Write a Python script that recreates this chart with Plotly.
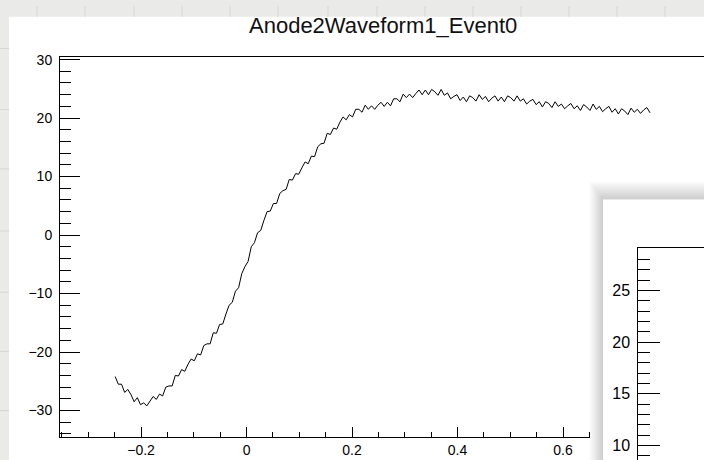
import plotly.graph_objects as go

W, H = 704, 460

# ---------------- data ----------------
time_s = [
    -0.249, -0.243, -0.237, -0.231, -0.225, -0.219, -0.213, -0.207, -0.201, -0.195,
    -0.189, -0.183, -0.177, -0.171, -0.165, -0.159, -0.153, -0.147, -0.141, -0.135,
    -0.129, -0.123, -0.117, -0.111, -0.105, -0.099, -0.093, -0.087, -0.081, -0.075,
    -0.069, -0.063, -0.057, -0.051, -0.045, -0.039, -0.033, -0.027, -0.021, -0.015,
    -0.009, -0.003, 0.003, 0.009, 0.015, 0.021, 0.027, 0.033, 0.039, 0.045,
    0.051, 0.057, 0.063, 0.069, 0.075, 0.081, 0.087, 0.093, 0.099, 0.105,
    0.111, 0.117, 0.123, 0.129, 0.135, 0.141, 0.147, 0.153, 0.159, 0.165,
    0.171, 0.177, 0.183, 0.189, 0.195, 0.201, 0.207, 0.213, 0.219, 0.225,
    0.231, 0.237, 0.243, 0.249, 0.255, 0.261, 0.267, 0.273, 0.279, 0.285,
    0.291, 0.297, 0.303, 0.309, 0.315, 0.321, 0.327, 0.333, 0.339, 0.345,
    0.351, 0.357, 0.363, 0.369, 0.375, 0.381, 0.387, 0.393, 0.399, 0.405,
    0.411, 0.417, 0.423, 0.429, 0.435, 0.441, 0.447, 0.453, 0.459, 0.465,
    0.471, 0.477, 0.483, 0.489, 0.495, 0.501, 0.507, 0.513, 0.519, 0.525,
    0.531, 0.537, 0.543, 0.549, 0.555, 0.561, 0.567, 0.573, 0.579, 0.585,
    0.591, 0.597, 0.603, 0.609, 0.615, 0.621, 0.627, 0.633, 0.639, 0.645,
    0.651, 0.657, 0.663, 0.669, 0.675, 0.681, 0.687, 0.693, 0.699, 0.705,
    0.711, 0.717, 0.723, 0.729, 0.735, 0.741, 0.747, 0.753, 0.759, 0.765,
]

amplitude = [
    -24.2, -25.5, -25.5, -26.9, -26.4, -27.3, -28.5, -27.8, -29.0, -28.7,
    -29.2, -28.4, -27.6, -28.1, -27.2, -27.5, -26.0, -25.8, -25.8, -24.0,
    -24.1, -23.0, -23.3, -22.1, -21.2, -21.5, -20.3, -20.5, -18.9, -18.6,
    -18.6, -16.7, -16.8, -15.3, -15.2, -13.5, -12.0, -11.5, -9.6, -9.0,
    -6.6, -5.4, -4.5, -2.0, -1.3, 0.4, 0.8, 2.5, 4.0, 4.1,
    5.4, 5.4, 7.1, 7.6, 7.8, 9.5, 9.4, 10.5, 10.4, 11.5,
    12.5, 12.2, 13.5, 13.4, 15.1, 15.6, 15.7, 17.4, 17.2, 18.3,
    18.1, 19.3, 20.2, 19.7, 20.6, 20.2, 21.5, 21.5, 21.0, 22.2,
    21.5, 22.1, 21.5, 22.2, 22.7, 22.0, 22.7, 22.1, 23.3, 23.3,
    22.8, 24.1, 23.5, 24.1, 23.5, 24.2, 24.8, 24.0, 24.8, 24.0,
    24.9, 24.5, 23.9, 24.9, 23.9, 24.3, 23.3, 23.7, 24.0, 23.0,
    23.6, 22.8, 23.8, 23.5, 22.9, 24.0, 23.2, 23.7, 22.8, 23.4,
    23.8, 22.9, 23.6, 22.8, 23.8, 23.5, 22.9, 23.8, 22.9, 23.3,
    22.4, 22.9, 23.2, 22.3, 22.8, 21.9, 22.8, 22.5, 21.8, 22.8,
    22.0, 22.4, 21.6, 22.1, 22.5, 21.6, 22.1, 21.3, 22.3, 21.9,
    21.3, 22.4, 21.5, 22.0, 21.1, 21.6, 22.0, 21.0, 21.6, 20.7,
    21.6, 21.2, 20.6, 21.7, 21.0, 21.5, 20.8, 21.4, 21.8, 20.9,
]

x_major_ticks = [-0.2, 0.0, 0.2, 0.4, 0.6, 0.8]
y_major_ticks = [-30, -20, -10, 0, 10, 20, 30]
inset_y_ticks = [10, 15, 20, 25]
title_text = "Anode2Waveform1_Event0"

# ---------------- layout constants (pixels) ----------------
FONT = "Liberation Sans, Arial, Helvetica, sans-serif"
FRAME_L, FRAME_T, FRAME_B = 60, 52, 436.7
X_RANGE = [-0.3536, 0.8673]
Y_RANGE = [-34.53, 30.39]

WIN_L, WIN_T = 603, 196          # inset window (white box)
SH_L, SH_T = 590, 178            # shadow extent
INSET_FRAME_L, INSET_FRAME_T = 638.3, 245.7
INSET_Y_RANGE = [8.585, 29.07]

CANVAS_L, CANVAS_T = 9, 11


def fx(p):
    return p / W


def fy(p):
    return 1 - p / H


fig = go.Figure()

# main waveform
fig.add_trace(go.Scatter(
    x=time_s, y=amplitude, mode="lines",
    line=dict(color="black", width=1),
    hoverinfo="skip", showlegend=False, xaxis="x", yaxis="y",
))

# inset window shadow + white box, in pixel coordinates on x2/y2
n_sh = 8
for k in range(n_sh, 0, -1):
    dx = (WIN_L - SH_L) * k / n_sh
    dy = (WIN_T - SH_T) * k / n_sh
    fig.add_trace(go.Scatter(
        x=[WIN_L - dx, W + 5, W + 5, WIN_L - dx, WIN_L - dx],
        y=[WIN_T - dy, WIN_T - dy, H + 5, H + 5, WIN_T - dy],
        fill="toself", fillcolor="rgba(0,0,0,0.022)",
        line=dict(width=0, color="rgba(0,0,0,0)"), mode="lines",
        hoverinfo="skip", showlegend=False, xaxis="x2", yaxis="y2",
    ))
fig.add_trace(go.Scatter(
    x=[WIN_L, W + 5, W + 5, WIN_L, WIN_L],
    y=[WIN_T, WIN_T, H + 5, H + 5, WIN_T],
    fill="toself", fillcolor="white",
    line=dict(width=0, color="rgba(0,0,0,0)"), mode="lines",
    hoverinfo="skip", showlegend=False, xaxis="x2", yaxis="y2",
))
# inset frame (axes only)
fig.add_trace(go.Scatter(
    x=[None], y=[None], mode="lines", hoverinfo="skip",
    showlegend=False, xaxis="x3", yaxis="y3",
))

# background: gray page with faint grid, white canvas
shapes = [
    dict(type="rect", xref="paper", yref="paper", layer="below",
         x0=fx(CANVAS_L), x1=1.0, y0=0.0, y1=fy(CANVAS_T),
         fillcolor="white", line=dict(width=0)),
]
for gx in [37, 85, 134, 182, 230, 278, 328, 377, 425, 473, 521, 569, 617, 665]:
    shapes.append(dict(type="line", xref="paper", yref="paper", layer="below",
                       x0=fx(gx), x1=fx(gx), y0=fy(CANVAS_T), y1=1.0,
                       line=dict(color="#d6d6d4", width=1)))
for gy in [43, 105, 165, 228, 290, 350, 410]:
    shapes.append(dict(type="line", xref="paper", yref="paper", layer="below",
                       x0=0.0, x1=fx(CANVAS_L), y0=fy(gy), y1=fy(gy),
                       line=dict(color="#d6d6d4", width=1)))

axis_common = dict(
    showline=True, linecolor="black", linewidth=1,
    showgrid=False, zeroline=False, ticks="inside",
    tickcolor="black", tickwidth=1,
    tickfont=dict(family=FONT, size=14, color="black"),
)

fig.update_layout(
    width=W, height=H,
    margin=dict(l=0, r=0, t=0, b=0),
    paper_bgcolor="#eaeae8", plot_bgcolor="white",
    showlegend=False,
    font=dict(family=FONT, color="black", size=14),
    shapes=shapes,
    xaxis=dict(
        **axis_common, domain=[fx(FRAME_L), 1.0], range=X_RANGE, anchor="y",
        mirror=True, tickvals=x_major_ticks, ticklen=10,
        minor=dict(ticks="inside", ticklen=5, dtick=0.05, tick0=0,
                   tickcolor="black", tickwidth=1, showgrid=False),
        ticklabelstandoff=0,
    ),
    yaxis=dict(
        **axis_common, domain=[fy(FRAME_B), fy(FRAME_T)], range=Y_RANGE,
        anchor="x", tickvals=y_major_ticks, ticklen=20,
        minor=dict(ticks="inside", ticklen=11, dtick=2, tick0=0,
                   tickcolor="black", tickwidth=1, showgrid=False),
        ticklabelstandoff=4,
    ),
    xaxis2=dict(domain=[fx(SH_L), 1.0], range=[SH_L, W], anchor="y2",
                visible=False, fixedrange=True),
    yaxis2=dict(domain=[0.0, fy(SH_T)], range=[H, SH_T], anchor="x2",
                visible=False, fixedrange=True),
    xaxis3=dict(domain=[fx(INSET_FRAME_L), 1.0], range=[0, 1], anchor="y3",
                side="top", showline=True, linecolor="black", linewidth=1,
                showticklabels=False, ticks="", showgrid=False, zeroline=False),
    yaxis3=dict(
        **axis_common, domain=[0.0, fy(INSET_FRAME_T)], range=INSET_Y_RANGE,
        anchor="x3", tickvals=inset_y_ticks, ticklen=22,
        minor=dict(ticks="inside", ticklen=12, dtick=1, tick0=0,
                   tickcolor="black", tickwidth=1, showgrid=False),
        ticklabelstandoff=4,
    ),
    annotations=[dict(
        text=title_text, xref="paper", yref="paper",
        x=fx(383), y=fy(20), xanchor="center", yanchor="middle",
        showarrow=False, font=dict(family=FONT, size=22, color="#111111"),
    )],
)
fig.update_yaxes(selector=dict(anchor="x3"), tickfont=dict(family=FONT, size=16, color="black"))

fig.write_html(
    "out.html",
    config={"displayModeBar": False},
    post_script="document.body.style.margin='0px';document.body.style.overflow='hidden';",
)
